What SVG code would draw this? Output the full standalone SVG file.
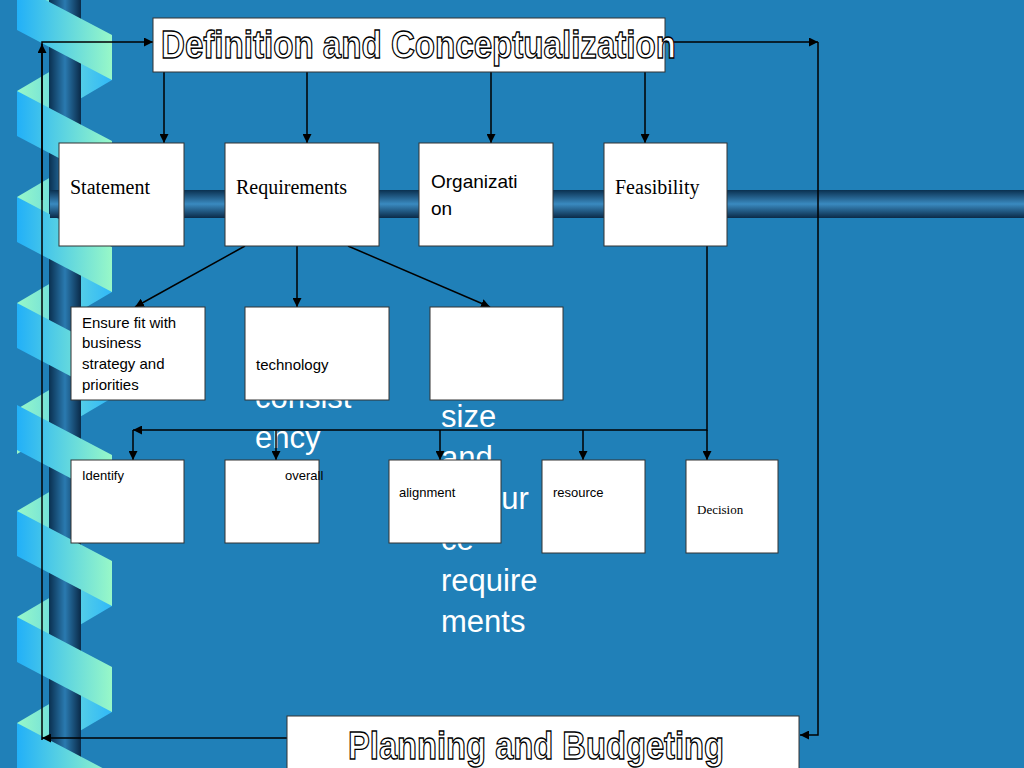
<svg xmlns="http://www.w3.org/2000/svg" width="1024" height="768" viewBox="0 0 1024 768">
<defs>
<linearGradient id="pv" x1="0" y1="0" x2="1" y2="0"><stop offset="0" stop-color="#0a3050"/><stop offset="0.5" stop-color="#2a7ab0"/><stop offset="1" stop-color="#0a2a48"/></linearGradient>
<linearGradient id="ph" x1="0" y1="0" x2="0" y2="1"><stop offset="0" stop-color="#0a3050"/><stop offset="0.5" stop-color="#3a8ac0"/><stop offset="1" stop-color="#0a2a48"/></linearGradient>
<linearGradient id="rb" x1="0" y1="0" x2="1" y2="0"><stop offset="0" stop-color="#22b0f8"/><stop offset="1" stop-color="#98f8c8"/></linearGradient>
<linearGradient id="rk" x1="0" y1="0" x2="1" y2="0"><stop offset="0" stop-color="#98f8c8"/><stop offset="1" stop-color="#30b8f8"/></linearGradient>
<marker id="a" viewBox="0 0 10 10" refX="10" refY="5" markerWidth="9" markerHeight="9" markerUnits="userSpaceOnUse" orient="auto"><path d="M0,0L10,5L0,10z" fill="#000"/></marker>
<g id="band"><polygon points="112,50 112,95 17,151 17,106" fill="url(#rk)"/></g>
<g id="front"><polygon points="17,0 112,50 112,95 17,45" fill="url(#rb)"/></g>
</defs>
<style>
.bx{fill:#fff;stroke:#333;stroke-width:1}
.s{font-family:"Liberation Serif",serif;fill:#000}
.a{font-family:"Liberation Sans",sans-serif;fill:#000}
.g{font-family:"Liberation Sans",sans-serif;font-size:31px;fill:#fff}
.o{font-family:"Liberation Sans",sans-serif;font-weight:bold;font-size:38px;fill:#fff;stroke:#000;stroke-width:1.3}
.c line,.c polyline{stroke:#000;stroke-width:1.5;fill:none}
</style>
<rect width="1024" height="768" fill="#2080b8"/>
<g id="ribbon">
<use href="#band" y="-121"/><use href="#band" y="-15"/><use href="#band" y="91"/><use href="#band" y="197"/><use href="#band" y="303"/><use href="#band" y="405"/><use href="#band" y="511"/><use href="#band" y="617"/>
<rect x="49" y="0" width="32" height="768" fill="url(#pv)"/>
<use href="#front" y="-15"/><use href="#front" y="91"/><use href="#front" y="197"/><use href="#front" y="303"/><use href="#front" y="405"/><use href="#front" y="511"/><use href="#front" y="617"/><use href="#front" y="723"/>
</g>
<rect x="50" y="190" width="974" height="28" fill="url(#ph)"/>
<g id="ghost">
<text class="g" x="255" y="408">consist</text><text class="g" x="255" y="448">ency</text>
<text class="g" x="441" y="427">size</text><text class="g" x="441" y="468">and</text><text class="g" x="441" y="509">resour</text><text class="g" x="441" y="550">ce</text><text class="g" x="441" y="591">require</text><text class="g" x="441" y="632">ments</text>
</g>
<g class="c" id="connectors">
<polyline points="42,740 42,42 153,42" marker-end="url(#a)"/>
<line x1="42" y1="200" x2="42" y2="44" marker-end="url(#a)"/>
<polyline points="665,42 818,42" marker-end="url(#a)"/>
<polyline points="818,42 818,735 800,735" marker-end="url(#a)"/>
<line x1="287" y1="738" x2="42" y2="738" marker-end="url(#a)"/>
<line x1="164" y1="72" x2="164" y2="143" marker-end="url(#a)"/>
<line x1="307" y1="72" x2="307" y2="143" marker-end="url(#a)"/>
<line x1="491" y1="72" x2="491" y2="143" marker-end="url(#a)"/>
<line x1="645" y1="72" x2="645" y2="143" marker-end="url(#a)"/>
<line x1="245" y1="246" x2="135" y2="307" marker-end="url(#a)"/>
<line x1="297" y1="246" x2="297" y2="307" marker-end="url(#a)"/>
<line x1="348" y1="246" x2="490" y2="307" marker-end="url(#a)"/>
<polyline points="707,246 707,430 133,430" marker-end="url(#a)"/>
<line x1="133" y1="430" x2="133" y2="460" marker-end="url(#a)"/>
<line x1="276" y1="430" x2="276" y2="460" marker-end="url(#a)"/>
<line x1="440" y1="430" x2="440" y2="460" marker-end="url(#a)"/>
<line x1="583" y1="430" x2="583" y2="460" marker-end="url(#a)"/>
<line x1="707" y1="430" x2="707" y2="460" marker-end="url(#a)"/>
</g>
<g id="title"><rect class="bx" x="153" y="18" width="512" height="54"/><text class="o" x="161" y="58" textLength="515" lengthAdjust="spacingAndGlyphs">Definition and Conceptualization</text></g>
<g id="statement"><rect class="bx" x="59" y="143" width="125" height="103"/><text class="s" font-size="20" x="70" y="194">Statement</text></g>
<g id="requirements"><rect class="bx" x="225" y="143" width="154" height="103"/><text class="s" font-size="20" x="236" y="194">Requirements</text></g>
<g id="organization"><rect class="bx" x="419" y="143" width="134" height="103"/><text class="a" font-size="19" x="431" y="188">Organizati</text><text class="a" font-size="19" x="431" y="215">on</text></g>
<g id="feasibility"><rect class="bx" x="604" y="143" width="123" height="103"/><text class="s" font-size="20" x="615" y="194">Feasibility</text></g>
<g id="ensure"><rect class="bx" x="71" y="307" width="134" height="93"/><text class="a" font-size="15" x="82" y="328">Ensure fit with</text><text class="a" font-size="15" x="82" y="348">business</text><text class="a" font-size="15" x="82" y="369">strategy and</text><text class="a" font-size="15" x="82" y="390">priorities</text></g>
<g id="technology"><rect class="bx" x="245" y="307" width="144" height="93"/><text class="a" font-size="15" x="256" y="370">technology</text></g>
<g id="blank"><rect class="bx" x="430" y="307" width="133" height="93"/></g>
<g id="identify"><rect class="bx" x="71" y="460" width="113" height="83"/><text class="a" font-size="13" x="82" y="480">Identify</text></g>
<g id="overall"><rect class="bx" x="225" y="460" width="94" height="83"/><text class="a" font-size="13" x="285" y="480">overall</text></g>
<g id="alignment"><rect class="bx" x="389" y="460" width="112" height="83"/><text class="a" font-size="13" x="399" y="497">alignment</text></g>
<g id="resource"><rect class="bx" x="542" y="460" width="103" height="93"/><text class="a" font-size="13" x="553" y="497">resource</text></g>
<g id="decision"><rect class="bx" x="686" y="460" width="92" height="93"/><text class="s" font-size="13" x="697" y="514">Decision</text></g>
<g id="planning"><rect class="bx" x="287" y="716" width="512" height="60"/><text class="o" x="348" y="759" textLength="376" lengthAdjust="spacingAndGlyphs">Planning and Budgeting</text></g>
</svg>
